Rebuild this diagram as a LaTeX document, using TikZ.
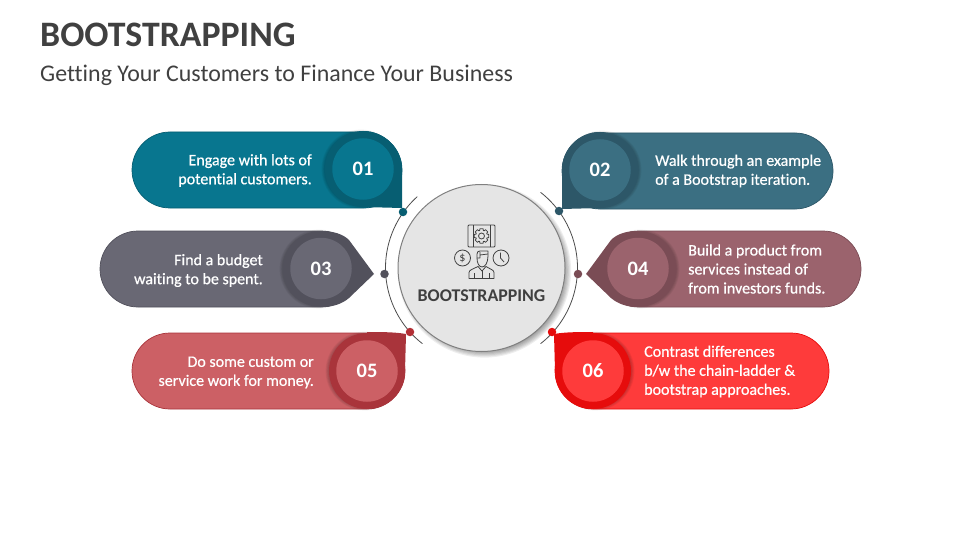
\documentclass[tikz,border=0pt]{standalone}
\usepackage{fontspec}
\setmainfont{Carlito}[Ligatures=NoCommon]
\newfontfamily\bodyf[Ligatures=NoCommon,RawFeature={embolden=0.6}]{Carlito}
\definecolor{ink}{HTML}{404040}
\definecolor{aM}{HTML}{08768F}\definecolor{aD}{HTML}{075E72}
\definecolor{bM}{HTML}{3B6F82}\definecolor{bD}{HTML}{2D5768}
\definecolor{cM}{HTML}{696874}\definecolor{cD}{HTML}{52515C}
\definecolor{dM}{HTML}{9B636D}\definecolor{dD}{HTML}{7A4C55}
\definecolor{eM}{HTML}{CC6065}\definecolor{eD}{HTML}{A9343B}
\definecolor{fM}{HTML}{FE3B3B}\definecolor{fD}{HTML}{E60C0C}
\tikzset{
  x=1pt,y=-1pt,
  numc/.style={circle,minimum size=61.5pt,inner sep=0pt,text=white,font=\fontsize{20.5}{21}\selectfont\bfseries},
  dotn/.style={circle,minimum size=8.5pt,inner sep=0pt},
  txtR/.style={anchor=east,align=right,text=white,inner sep=0pt,font=\bodyf\fontsize{16}{19}\selectfont},
  txtL/.style={anchor=west,align=left,text=white,inner sep=0pt,font=\bodyf\fontsize{16}{19}\selectfont},
  ico/.style={draw=ink,line width=.8pt,line join=round},
}
\newcommand\softring[3]{% x y dx
  \foreach \k in {0,1,2,3}{\fill[black,opacity=.05] (#1+#3,#2) circle[radius=37pt+\k*.8pt];}
}
\begin{document}
\begin{tikzpicture}
\useasboundingbox (0,0) rectangle (960,540);
\node[anchor=base west,inner sep=0pt,text=ink,font=\fontsize{35.8}{36}\selectfont\bfseries] (title) at (40,47) {BOOTSTRAPPING};
\node[anchor=base west,inner sep=0pt,text=ink,font=\fontsize{23.9}{24}\selectfont] (subtitle) at (40,81.5) {Getting Your Customers to Finance Your Business};

% centre
\foreach \k in {0,...,6}{\fill[black,opacity=.065] (484.5,271) circle[radius=80pt+\k*1.1pt];}
\node[circle,minimum size=167pt,inner sep=0pt,fill=black!10,draw=black!50,line width=1pt] (c) at (481.5,268) {};
\node[anchor=base,inner sep=0pt,text=ink,font=\fontsize{17.9}{18}\selectfont\bfseries] (clabel) at (481.5,301.5) {BOOTSTRAPPING};
\draw[black!70,line width=.8pt] (c.center) ++(132:96pt) arc[start angle=132,end angle=232,radius=96pt];
\draw[black!70,line width=.8pt] (c.center) ++(-52:96pt) arc[start angle=-52,end angle=52,radius=96pt];

% icon
\draw[ico,rounded corners=1pt] (468,225) rectangle (495,247);
\draw[ico] (473,225) -- (473,247) (490,225) -- (490,247);
\draw[ico] ({481.5+7.5*cos(-12)},{236+7.5*sin(-12)})
  \foreach \a in {0,45,...,315}{ -- ({481.5+7.5*cos(\a-12)},{236+7.5*sin(\a-12)}) -- ({481.5+7.5*cos(\a+12)},{236+7.5*sin(\a+12)}) -- ({481.5+5.8*cos(\a+18)},{236+5.8*sin(\a+18)}) -- ({481.5+5.8*cos(\a+27)},{236+5.8*sin(\a+27)}) } -- cycle;
\draw[ico] (481.5,236) circle[radius=3pt];
\draw[ico] (462.5,258) circle[radius=8pt];
\node[inner sep=0pt,text=ink,font=\fontsize{12}{12}\selectfont] (dollar) at (462.5,258) {\$};
\draw[ico] (501,258) circle[radius=8pt];
\draw[ico] (500.5,252.5) -- (500.5,258) -- (504,262);
\draw[ico] (477,254) .. controls (477,252) and (478,251) .. (480,251) -- (488,251) -- (488,256) .. controls (488,263) and (485,267) .. (482,267) .. controls (479,267) and (477,263) .. (477,258) -- cycle;
\draw[ico] (477,258) -- (480,258) -- (480,252) (480,255) -- (488,254);
\draw[ico] (469,278.5) -- (469,272.5) .. controls (469,270) and (473,269) .. (478,266.5) -- (482,271) -- (486,266.5) .. controls (490,269) and (494,270) .. (494,272.5) -- (494,278.5) -- cycle;
\draw[ico] (474,278.5) -- (474,273) (489,278.5) -- (489,273) (482,271) -- (482,278.5);

% 01
\draw[aD,fill=aM,line width=.7pt,rounded corners=38pt] (250,132) -- (402,132) -- (402,208) -- (132,208) -- (132,132) -- cycle;
\softring{363}{169}{-2}
\fill[aD] (363,131) .. controls (384,131) and (402,148) .. (402,169) -- (402,208) -- (363,207) -- cycle;
\fill[aD] (363,169) circle[radius=38pt];
\node[numc,fill=aM] (n1) at (363,169) {01};
\node[txtR] (t1) at (312,170.5) {Engage with lots of\\potential customers.};
% 02
\draw[bD,fill=bM,line width=.7pt,rounded corners=38pt] (700,133) -- (833,133) -- (833,209) -- (562,209) -- (562,133) -- cycle;
\softring{600}{170}{2}
\fill[bD] (600,132) .. controls (579,132) and (562,149) .. (562,170) -- (562,209) -- (600,208) -- cycle;
\fill[bD] (600,170) circle[radius=38pt];
\node[numc,fill=bM] (n2) at (600,170) {02};
\node[txtL] (t2) at (655,171) {Walk through an example\\of a Bootstrap iteration.};
% 03
\draw[cD,fill=cM,line width=.7pt,rounded corners=38pt] (200,231) -- (359,231) -- (359,307) -- (100,307) -- (100,231) -- cycle;
\softring{321}{269}{-2}
\fill[cD] (321,231) .. controls (333,231) and (343,234) .. (349,240) -- (374,274) -- (349,298) .. controls (342,304) and (333,307) .. (321,307) -- cycle;
\fill[cD] (321,269) circle[radius=38pt];
\node[numc,fill=cM] (n3) at (321,268.5) {03};
\node[txtR] (t3) at (263,270.5) {Find a budget\\waiting to be spent.};
% 04
\draw[dD,fill=dM,line width=.7pt,rounded corners=38pt] (750,231) -- (861,231) -- (861,307) -- (601,307) -- (601,231) -- cycle;
\softring{638}{269}{2}
\fill[dD] (638,231) .. controls (626,231) and (617,234) .. (611,240) -- (586,274) -- (611,298) .. controls (618,304) and (627,307) .. (638,307) -- cycle;
\fill[dD] (638,269) circle[radius=38pt];
\node[numc,fill=dM] (n4) at (638,268.5) {04};
\node[txtL] (t4) at (688,269) {Build a product from\\services instead of\\from investors funds.};
% 05
\draw[eD,fill=eM,line width=.7pt,rounded corners=38pt] (250,333) -- (405,333) -- (405,409) -- (132,409) -- (132,333) -- cycle;
\softring{367}{371}{-2}
\fill[eD] (367,332) .. controls (380,332) and (395,332) .. (406,334) -- (405,371) -- (367,371) -- cycle;
\fill[eD] (367,371) circle[radius=38pt];
\node[numc,fill=eM] (n5) at (367,371) {05};
\node[txtR] (t5) at (314,372.5) {Do some custom or\\service work for money.};
% 06
\draw[fD,fill=fM,line width=.7pt,rounded corners=38pt] (700,333) -- (829,333) -- (829,409) -- (555,409) -- (555,333) -- cycle;
\softring{593}{371}{2}
\fill[fD] (593,332) .. controls (580,332) and (565,332) .. (554,334) -- (555,371) -- (593,371) -- cycle;
\fill[fD] (593,371) circle[radius=38pt];
\node[numc,fill=fM] (n6) at (593,371) {06};
\node[txtL] (t6) at (644,371.5) {Contrast differences\\b/w the chain-ladder \&\\bootstrap approaches.};

% dots
\node[dotn,fill=aD] (d1) at (403,212) {};
\node[dotn,fill=bD] (d2) at (559,211) {};
\node[dotn,fill=cD] (d3) at (384.5,274) {};
\node[dotn,fill=dD] (d4) at (578,274) {};
\node[dotn,fill=eD!90!red] (d5) at (410,332) {};
\node[dotn,fill=fD] (d6) at (552,332) {};
\end{tikzpicture}
\end{document}
